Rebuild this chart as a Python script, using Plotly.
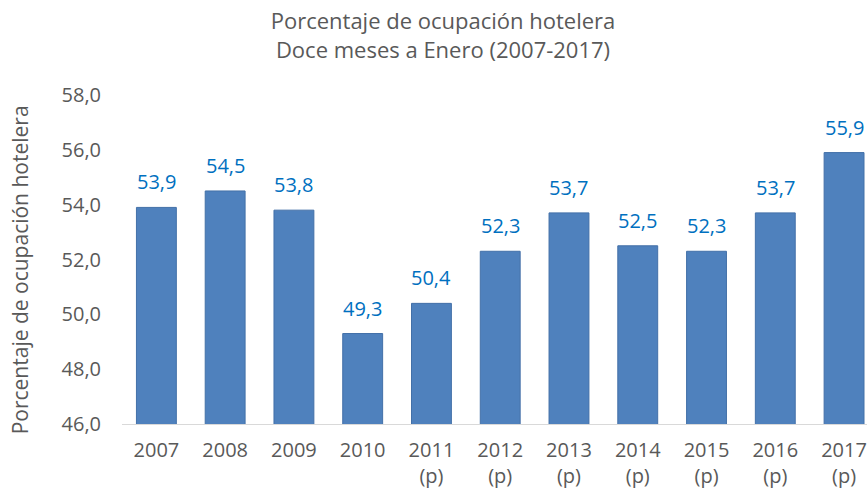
import plotly.graph_objects as go

categories = ["2007", "2008", "2009", "2010", "2011<br>(p)", "2012<br>(p)", "2013<br>(p)",
              "2014<br>(p)", "2015<br>(p)", "2016<br>(p)", "2017<br>(p)"]
values = [53.9, 54.5, 53.8, 49.3, 50.4, 52.3, 53.7, 52.5, 52.3, 53.7, 55.9]
y_ticks = [46, 48, 50, 52, 54, 56, 58]

FONT = "Open Sans"
GRAY = "#595959"

fig = go.Figure()
fig.add_trace(go.Bar(
    x=list(range(len(categories))), y=values,
    marker=dict(color="#4F81BD", line=dict(color="#4370A8", width=1)),
    width=0.58,
))

for i, v in enumerate(values):
    fig.add_annotation(x=i, y=v, text=f"{v:.1f}".replace(".", ","),
                       showarrow=False, yanchor="bottom", yshift=10,
                       font=dict(family=FONT, size=20, color="#0070C0"))

fig.add_annotation(xref="paper", yref="paper", x=-0.1355, y=0.47,
                   text="Porcentaje de ocupación hotelera", textangle=-90,
                   showarrow=False, xanchor="center", yanchor="middle",
                   font=dict(family=FONT, size=21, color=GRAY))

fig.update_layout(
    width=875, height=489,
    margin=dict(l=122, r=0, t=95, b=63),
    paper_bgcolor="white", plot_bgcolor="white",
    showlegend=False,
    separators=",.",
    title=dict(text="Porcentaje de ocupación hotelera<br>Doce meses a Enero (2007-2017)",
               xref="container", yref="container", x=443 / 875, y=1 - 29 / 489,
               xanchor="center", yanchor="middle",
               font=dict(family=FONT, size=22, color=GRAY)),
    xaxis=dict(tickmode="array", tickvals=list(range(len(categories))), ticktext=categories,
               range=[-0.5, 10.45], showgrid=False, showline=True, linecolor="#D9D9D9",
               linewidth=1, ticks="", ticklabelstandoff=8,
               tickfont=dict(family=FONT, size=20, color=GRAY)),
    yaxis=dict(range=[46, 58], tickvals=y_ticks, tickformat=".1f", showgrid=False,
               zeroline=False, showline=False, ticks="", ticklabelstandoff=20,
               tickfont=dict(family=FONT, size=20, color=GRAY)),
)

fig.write_html(
    "out.html",
    config={"displayModeBar": False},
    post_script="document.body.style.margin='0';document.body.style.overflow='hidden';",
)
